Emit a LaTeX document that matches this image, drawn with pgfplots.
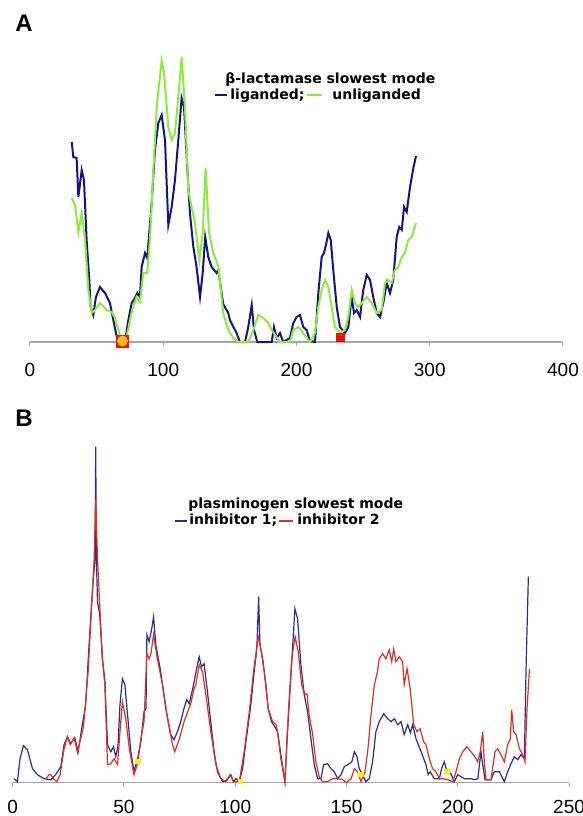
\documentclass[border=0pt]{standalone}
\usepackage{fontspec}
\setmainfont{Liberation Sans}
\newfontfamily\verd{DejaVu Sans}
\usepackage{pgfplots}
\pgfplotsset{compat=1.18}
\definecolor{navyA}{RGB}{20,20,130}
\definecolor{limeA}{RGB}{140,235,60}
\definecolor{navyB}{RGB}{45,45,140}
\definecolor{redB}{RGB}{225,45,35}
\definecolor{axgray}{RGB}{165,165,165}
\definecolor{orangeM}{RGB}{255,190,30}
\definecolor{redM}{RGB}{230,20,20}
\begin{document}
\begin{tikzpicture}
\path[use as bounding box] (0,0) rectangle (291.5pt,408pt);
\pgfplotsset{myax/.style={
  scale only axis, axis x line=bottom, axis y line=none, ymin=0, clip=false,
  axis line style={axgray, line width=0.6pt, -},
  every outer x axis line/.append style={-},
  x axis line style={-},
  tick style={axgray, line width=0.5pt},
  major tick length=2pt, tick align=outside,
  xticklabel style={font=\fontsize{9.5}{11}\selectfont},
  /pgf/number format/assume math mode=true,
  anchor=south west}}
% ---------- Panel A ----------
\begin{axis}[myax, at={(15pt,237pt)}, width=266.5pt, height=150pt,
  xmin=0, xmax=400, ymax=300, xtick={0,100,200,300,400},
  xticklabel style={yshift=-5pt}]
\addplot[navyA, line width=1pt] coordinates {
(31.3,200) (32.5,185) (35,184) (36.3,145) (38.8,172) (40.5,162) (42.5,102) (44.5,62) (45.5,35) (47.5,27) (49.5,45) (52.5,55) (56.3,49) (60,39) (62.5,22) (64.5,9) (66.3,0) (71.3,0) (73.8,22) (76.3,39) (78.8,44) (80.5,49) (82.5,45) (83.8,75) (86.3,89) (88,84) (89.5,109) (91.3,139) (93.8,192) (96.3,219) (98.8,227) (101.3,202) (103.8,117) (106.3,135) (108.8,162) (111.3,202) (113.8,244) (115.6,235) (117.6,185) (120,129) (122.6,95) (125,75) (127.6,45) (129.6,69) (131.5,105) (133.8,85) (136.3,75) (140,69) (141.3,72) (145,38) (148.8,29) (150,22) (155,9) (157.6,0) (161.4,0) (163.8,15) (166.4,37) (168.1,12) (170.6,0) (181.4,0) (183.1,15) (185.1,4) (187.6,9) (190.1,0) (195.1,4) (197.6,19) (200.1,25) (202.6,27) (205.1,15) (207.6,12) (210.1,1) (213.9,0) (216.4,49) (218.9,85) (220.6,89) (222.1,97) (223.9,109) (225.7,102) (227.6,72) (230.2,35) (232.6,15) (236.4,9) (238.9,15) (241.4,45) (243.2,29) (245.2,32) (247.7,25) (250.1,52) (252.7,67) (255.2,62) (257.6,45) (260.2,29) (262.7,25) (265.1,39) (267.7,59) (270.2,49) (272.6,62) (275.2,105) (277.1,115) (279,112) (280.7,135) (282.7,130) (285.2,155) (287.7,174) (289.7,186)};
\addplot[limeA, line width=1pt] coordinates {
(31.3,144) (33.8,137) (36.3,110) (38.8,129) (41.3,102) (43.8,52) (46.3,29) (48.8,32) (52.5,39) (57.5,32) (61.3,30) (63.8,24) (66.3,12) (68.8,0) (72.5,5) (76.3,30) (80,45) (82.5,40) (85,69) (88,69) (90,102) (92.1,159) (95.1,235) (98.8,281) (100.6,269) (103.8,215) (106.3,202) (108.8,209) (111.3,245) (113.8,285) (116.3,235) (118.8,152) (121.3,135) (123.8,119) (127.1,82) (129.6,109) (131.8,174) (134.3,110) (137.6,89) (141.3,76) (145,29) (148.8,12) (152.6,4) (156.4,0) (163.8,0) (167.6,12) (171.3,27) (175.1,24) (178.9,19) (181.4,12) (183.9,7) (187.6,0) (195.1,0) (197.6,12) (201.4,15) (205.1,9) (207.6,4) (210.1,0) (213.9,9) (216.4,35) (218.9,52) (221.4,62) (223.9,55) (226.4,35) (228.9,15) (232.6,9) (236.4,12) (238.9,25) (241.4,52) (243.9,39) (246.4,35) (248.9,39) (252.7,45) (256.4,39) (260.2,29) (263.9,32) (266.4,59) (268.9,62) (271.4,59) (273.9,72) (276.4,75) (279,85) (281.4,89) (283.9,102) (286.4,105) (289.7,119)};
\addplot[only marks, mark=square*, mark size=3pt, color=redM] coordinates {(69.4,1)};
\addplot[only marks, mark=*, mark size=2.5pt, color=orangeM] coordinates {(69.4,1)};
\addplot[only marks, mark=square*, mark size=2pt, color=redM] coordinates {(233.3,4.7)};
\end{axis}
% ---------- Panel B ----------
\begin{axis}[myax, at={(6.35pt,16.65pt)}, width=278.2pt, height=170pt,
  xmin=0, xmax=250, ymax=340, xtick={0,50,100,150,200,250},
  xticklabel style={yshift=-3pt}]
\addplot[navyB, line width=0.6pt] coordinates {
(0.6,4) (2.1,1) (3.3,24) (4.8,37) (6.6,33) (8.9,14) (11.1,8) (14.1,4) (17.1,3) (19.3,8) (21.6,16) (23.1,38) (24.6,46) (26.1,39) (27.9,45) (29.4,31) (31.3,58) (32.8,78) (34.3,138) (35.8,191) (37.0,224) (37.3,336) (37.6,224) (38.1,181) (39.1,168) (40.3,124) (41.4,103) (42.6,38) (44.1,31) (45.3,36) (46.3,26) (47.3,36) (48.2,78) (49.3,104) (50.4,98) (51.6,68) (53.1,31) (54.5,11) (56.1,24) (57.6,41) (59,71) (59.9,74) (60.3,148) (61.3,141) (62.4,153) (63.3,166) (64.3,138) (66.5,111) (68.8,74) (71,48) (72.5,43) (74,51) (75.5,61) (76.8,73) (78.2,83) (79.3,79) (80.8,93) (83,118) (83.8,126) (84.8,116) (86,119) (87.5,91) (89,61) (90.5,31) (92,11) (94.3,1) (96.5,3) (98,8) (99.2,1) (100.3,4) (101.8,1) (103.3,14) (104.8,41) (107,78) (108.5,111) (109.7,134) (110.5,186) (111.1,138) (112.3,124) (113.8,98) (114.8,74) (116.3,61) (118.3,54) (119,51) (120.5,28) (122.3,1) (123.5,51) (125.3,118) (126.8,174) (128,164) (129.5,118) (131,88) (132.5,71) (134,44) (135.5,18) (137,4) (138.5,4) (139.7,18) (141.5,19) (143,14) (144.5,11) (146,4) (147.5,8) (149,16) (151.2,19) (152.4,21) (153.5,31) (154.7,26) (155.7,14) (157.2,8) (158.7,1) (160.2,4) (161.7,21) (163.2,51) (164.7,61) (166.7,69) (168.5,64) (170,61) (171.5,64) (173,58) (174.5,61) (175.9,48) (177.5,58) (178.7,50) (179.7,58) (181.2,44) (183.5,31) (185.7,18) (186.7,8) (187.6,11) (189.4,4) (191.7,4) (192.7,14) (193.9,21) (195.1,11) (196.9,9) (198.4,1) (200,8) (203,4) (206,4) (207.5,3) (209,4) (210.4,31) (211.2,18) (212.2,3) (214.9,3) (216.4,11) (218.7,11) (220.9,1) (222.4,11) (223.9,19) (225.4,26) (226.9,23) (228.4,28) (229.9,24) (230.7,118) (231.7,206)};
\addplot[redB, line width=0.6pt] coordinates {
(15,4) (16.3,8) (17.1,8) (18.3,4) (19.8,1) (21.3,8) (23.1,34) (24.6,46) (25.8,38) (27.6,45) (29.1,30) (31.8,56) (33.9,111) (35.4,174) (36.6,224) (37.3,283) (38.1,224) (39.1,178) (40.3,124) (41.4,98) (42.6,18) (44.1,19) (45.5,24) (47.1,18) (48.2,51) (49.3,81) (50.8,64) (52.4,34) (54.5,8) (56.1,19) (57.6,44) (59,61) (60.3,129) (61.3,124) (62.1,129) (63.3,148) (65,124) (67.3,98) (69.6,64) (71.8,38) (72.8,31) (74.8,43) (77,61) (78.5,70) (80,79) (81.5,94) (82.3,98) (83.8,118) (85.3,111) (86.8,88) (89,51) (91.3,18) (93.5,4) (95.8,1) (97.7,8) (99.2,1) (101.8,1) (104,31) (106.3,71) (108.2,111) (110.3,146) (111.5,134) (113,111) (114.8,74) (116.8,61) (118.3,58) (119,51) (120.5,24) (122.3,1) (123.8,68) (125.4,124) (126.9,146) (128.3,131) (129.8,98) (131.3,88) (132.2,89) (133.2,68) (134.8,48) (136.2,21) (137.7,6) (139.2,1) (141.5,1) (143.7,4) (146,4) (148.3,3) (149.8,0) (152,4) (153.5,14) (155,11) (156.5,1) (158.3,11) (159.5,31) (161,68) (162.5,98) (163.9,111) (164.7,124) (166.2,129) (167.7,124) (169.2,133) (170.3,121) (171.2,134) (172.2,121) (173.7,126) (175.2,121) (175.9,98) (177.2,114) (178.6,94) (180.2,58) (181.7,51) (183.1,54) (184.6,41) (185.7,38) (187.2,24) (188.7,14) (190.2,11) (191.7,4) (193.2,4) (195.5,3) (197.7,1) (199.2,11) (200.7,24) (202.2,31) (204.1,36) (205.9,31) (207.7,26) (208.9,21) (210.1,31) (211.2,51) (211.9,21) (212.7,3) (214.9,3) (216.7,31) (217.9,34) (219.4,28) (220.9,21) (222.4,38) (223.6,44) (224.2,73) (225.1,51) (226.2,48) (227.7,34) (229.2,28) (230.2,21) (231.1,74) (232.2,114)};
\addplot[only marks, mark=square*, mark size=1.1pt, color=yellow] coordinates {(56.3,21) (102.2,1) (156.5,8) (195.1,11)};
\end{axis}
% ---------- panel letters ----------
\node[anchor=base west, inner sep=0pt, font=\fontsize{12}{14}\selectfont\bfseries] at (7.5pt,392pt) {A};
\node[anchor=base west, inner sep=0pt, font=\fontsize{12}{14}\selectfont\bfseries] at (7.5pt,194.5pt) {B};
% ---------- legend A ----------
\begin{scope}[every node/.style={anchor=base west, inner sep=0pt, font=\verd\bfseries\fontsize{7}{8}\selectfont}]
\node at (112.5pt,366.3pt) {β-lactamase slowest mode};
\draw[navyA, line width=0.6pt] (107.5pt,360.5pt) -- (113.5pt,360.5pt);
\node at (115pt,358pt) {liganded;};
\draw[limeA, line width=0.6pt] (153.5pt,360.5pt) -- (161pt,360.5pt);
\node at (166pt,358pt) {unliganded};
% ---------- legend B ----------
\node at (94pt,153.5pt) {plasminogen slowest mode};
\draw[navyB, line width=0.6pt] (87.5pt,147.5pt) -- (93.5pt,147.5pt);
\node at (94.5pt,145.5pt) {inhibitor 1;};
\draw[redB, line width=0.6pt] (139.5pt,147.5pt) -- (146.5pt,147.5pt);
\node at (148.5pt,145.5pt) {inhibitor 2};
\end{scope}
\end{tikzpicture}
\end{document}
